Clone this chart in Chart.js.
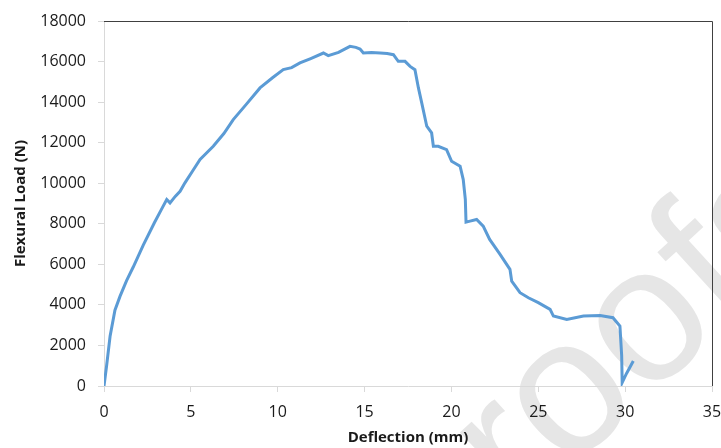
<!DOCTYPE html>
<html>
<head>
<meta charset="utf-8">
<script src="https://cdn.jsdelivr.net/npm/chart.js@4/dist/chart.umd.min.js"></script>
<style>
  html, body { margin: 0; padding: 0; background: #fff; }
  #wrap { width: 721px; height: 448px; position: relative; }
</style>
</head>
<body>
<div id="wrap"><canvas id="chartFlex"></canvas></div>
<script>
// deflection (mm) and flexural load (N)
const deflection = [
  0, 0.15, 0.35, 0.63, 0.92, 1.3, 1.69, 2.26, 2.9, 3.3, 3.61, 3.8, 4.1, 4.38,
  4.66, 5.1, 5.53, 6.29, 6.9, 7.44, 8.2, 8.98, 9.7, 10.32, 10.8, 11.28, 11.9,
  12.63, 12.91, 13.5, 14.16, 14.5, 14.74, 14.93, 15.4, 15.9, 16.3, 16.66, 16.94,
  17.33, 17.62, 17.9, 18.1, 18.29, 18.58, 18.86, 18.96, 19.24, 19.72, 20.01,
  20.5, 20.68, 20.8, 20.84, 21.07, 21.45, 21.83, 22.2, 22.8, 23.37, 23.47,
  23.95, 24.43, 25.0, 25.68, 25.87, 26.64, 27.6, 28.56, 29.3, 29.7, 29.8,
  29.83, 30.08, 30.47,
];
const load = [
  0, 1000, 2450, 3740, 4420, 5200, 5880, 6950, 8050, 8700, 9200, 9030, 9350,
  9600, 10020, 10600, 11170, 11820, 12450, 13140, 13900, 14700, 15200, 15600,
  15700, 15930, 16150, 16420, 16290, 16450, 16750, 16700, 16620, 16420, 16450,
  16420, 16400, 16340, 16010, 16010, 15760, 15600, 14700, 13960, 12810, 12480,
  11820, 11820, 11660, 11080, 10840, 10180, 9200, 8080, 8130, 8210, 7880, 7230,
  6490, 5750, 5170, 4600, 4350, 4110, 3780, 3450, 3280, 3450, 3480, 3370, 2960,
  1500, 170, 620, 1230,
];
const xTicks = [0, 5, 10, 15, 20, 25, 30, 35];
const yTicks = [0, 2000, 4000, 6000, 8000, 10000, 12000, 14000, 16000, 18000];

const points = deflection.map((d, i) => ({ x: d, y: load[i] }));

// dark frame on top and right, like the spreadsheet plot area
const frame = {
  id: "frame",
  afterDraw(chart) {
    const { ctx, chartArea: a } = chart;
    ctx.save();
    ctx.strokeStyle = "#404040";
    ctx.lineWidth = 1;
    ctx.beginPath();
    ctx.moveTo(a.left, a.top + 0.5);
    ctx.lineTo(a.right + 0.5, a.top + 0.5);
    ctx.lineTo(a.right + 0.5, a.bottom);
    ctx.stroke();
    ctx.restore();
  },
};

// faint watermark in the lower right
const watermark = {
  id: "watermark",
  beforeDraw(chart) {
    const { ctx } = chart;
    ctx.save();
    ctx.translate(440, 588);
    ctx.rotate(-0.74);
    ctx.fillStyle = "#e6e6e6";
    ctx.font = "192px 'Liberation Sans'";
    ctx.textAlign = "left";
    ctx.textBaseline = "alphabetic";
    ctx.fillText("proofs", 0, 0);
    ctx.restore();
  },
};

const myChart = new Chart(document.getElementById("chartFlex"), {
  type: "line",
  data: {
    datasets: [
      {
        data: points,
        borderColor: "#5b9bd5",
        backgroundColor: "#5b9bd5",
        borderWidth: 3,
        pointRadius: 0,
        tension: 0,
      },
    ],
  },
  options: {
    responsive: true,
    maintainAspectRatio: false,
    animation: false,
    layout: { padding: { top: 21, right: 9, left: 0, bottom: 0 } },
    plugins: {
      legend: { display: false },
      tooltip: { enabled: false },
    },
    scales: {
      x: {
        type: "linear",
        min: 0,
        max: 35,
        afterBuildTicks: (scale) => {
          scale.ticks = xTicks.map((v) => ({ value: v }));
        },
        afterFit: (scale) => {
          scale.height = 62;
          scale.paddingLeft = 0;
          scale.paddingRight = 0;
        },
        ticks: {
          padding: 11,
          color: "#1a1a1a",
          font: { family: "'Open Sans'", size: 16 },
        },
        grid: {
          drawOnChartArea: false,
          tickLength: 6,
          color: "#d9d9d9",
        },
        border: { color: "#d9d9d9" },
        title: {
          display: true,
          text: "Deflection (mm)",
          color: "#1a1a1a",
          padding: { top: 0, bottom: 1 },
          font: { family: "'Open Sans'", size: 15, weight: "bold" },
        },
      },
      y: {
        min: 0,
        max: 18000,
        afterBuildTicks: (scale) => {
          scale.ticks = yTicks.map((v) => ({ value: v }));
        },
        afterFit: (scale) => {
          scale.width = 104;
          scale.paddingTop = 0;
          scale.paddingBottom = 0;
        },
        ticks: {
          padding: 12,
          color: "#1a1a1a",
          font: { family: "'Open Sans'", size: 16 },
          callback: (v) => String(v),
        },
        grid: {
          drawOnChartArea: false,
          tickLength: 6,
          color: "#d9d9d9",
        },
        border: { color: "#d9d9d9" },
        title: {
          display: true,
          text: "Flexural Load (N)",
          color: "#1a1a1a",
          padding: { top: 12, bottom: 0 },
          font: { family: "'Open Sans'", size: 15, weight: "bold" },
        },
      },
    },
  },
  plugins: [watermark, frame],
});
</script>
</body>
</html>
